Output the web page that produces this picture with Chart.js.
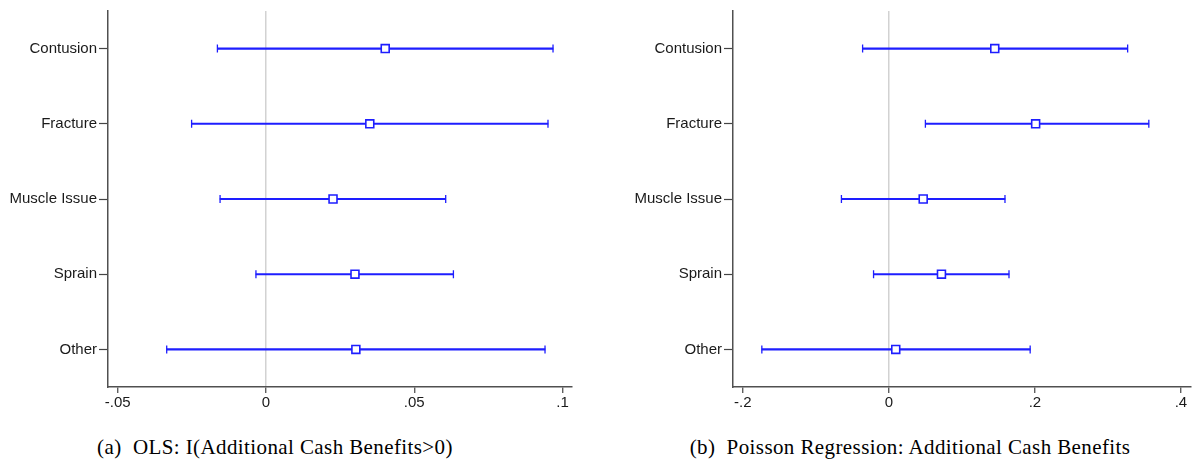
<!DOCTYPE html>
<html>
<head>
<meta charset="utf-8">
<script src="https://cdn.jsdelivr.net/npm/chart.js@4"></script>
<style>
  body { margin: 0; background: #fff; width: 1198px; height: 473px; position: relative; overflow: hidden; }
  .panel { position: absolute; top: 0; }
  .caption { position: absolute; top: 435px; font-family: 'Liberation Serif', serif; font-size: 21px; letter-spacing: 0.4px; color: #000; white-space: nowrap; transform: translateX(-50%); }
</style>
</head>
<body>
<div class="panel" style="left:0"><canvas id="olsChart" width="600" height="420"></canvas></div>
<div class="panel" style="left:600px"><canvas id="poisChart" width="598" height="420"></canvas></div>
<div class="caption" style="left:275px">(a)&nbsp; OLS: I(Additional Cash Benefits&gt;0)</div>
<div class="caption" style="left:910px">(b)&nbsp; Poisson Regression: Additional Cash Benefits</div>
<script>
const categories = ['Contusion', 'Fracture', 'Muscle Issue', 'Sprain', 'Other'];

// OLS estimates with 95% CI
const olsCoef  = [0.0402, 0.0350, 0.0226, 0.0300, 0.0303];
const olsLower = [-0.0164, -0.0251, -0.0155, -0.0034, -0.0335];
const olsUpper = [0.0968, 0.0951, 0.0606, 0.0632, 0.0941];
const olsTicks = [-0.05, 0, 0.05, 0.1];
const olsTickLabels = ['-.05', '0', '.05', '.1'];

// Poisson estimates with 95% CI
const poisCoef  = [0.145, 0.201, 0.047, 0.072, 0.0094];
const poisLower = [-0.036, 0.050, -0.065, -0.021, -0.174];
const poisUpper = [0.327, 0.356, 0.159, 0.1645, 0.1935];
const poisTicks = [-0.2, 0, 0.2, 0.4];
const poisTickLabels = ['-.2', '0', '.2', '.4'];

const blue = 'rgb(30,30,255)';
const labelFont = { family: "'Liberation Sans', Arial, sans-serif", size: 15 };

function pts(values) {
    return values.map((v, i) => ({ x: v, y: categories[i] }));
}

function makeChart(id, coef, lower, upper, ticks, tickLabels, xmin, xmax, yAxisWidth, padRight) {
    const ctx = document.getElementById(id).getContext('2d');
    return new Chart(ctx, {
        type: 'bar',
        data: {
            labels: categories,
            datasets: [
                {
                    type: 'line',
                    data: pts(coef),
                    showLine: false,
                    pointStyle: 'rect',
                    pointRadius: 5.6,
                    pointBorderWidth: 1.6,
                    pointBorderColor: blue,
                    pointBackgroundColor: '#fff',
                },
                {
                    type: 'line',
                    data: pts(lower),
                    showLine: false,
                    pointStyle: 'line',
                    pointRotation: 90,
                    pointRadius: 4,
                    pointBorderWidth: 1.3,
                    pointBorderColor: blue,
                },
                {
                    type: 'line',
                    data: pts(upper),
                    showLine: false,
                    pointStyle: 'line',
                    pointRotation: 90,
                    pointRadius: 4,
                    pointBorderWidth: 1.3,
                    pointBorderColor: blue,
                },
                {
                    data: lower.map((l, i) => [l, upper[i]]),
                    backgroundColor: blue,
                    borderWidth: 0,
                    barThickness: 1.4,
                }
            ]
        },
        options: {
            indexAxis: 'y',
            responsive: false,
            animation: false,
            layout: { padding: { top: 8, right: padRight, left: 0, bottom: 0 } },
            plugins: { legend: { display: false }, tooltip: { enabled: false } },
            scales: {
                x: {
                    type: 'linear',
                    min: xmin,
                    max: xmax,
                    afterBuildTicks: s => { s.ticks = ticks.map(v => ({ value: v })); },
                    afterFit: s => { s.height = 33; },
                    ticks: {
                        callback: (v, i) => tickLabels[i],
                        font: labelFont,
                        color: '#1a1a1a',
                        padding: 1,
                        maxRotation: 0,
                        autoSkip: false,
                    },
                    grid: {
                        color: c => (c.tick && c.tick.value === 0) ? '#d2d2d2' : 'rgba(0,0,0,0)',
                        lineWidth: 1.5,
                        tickColor: '#444',
                        tickLength: 6,
                        tickWidth: 1.2,
                    },
                    border: { color: '#505050', width: 1.5 },
                },
                y: {
                    type: 'category',
                    offset: true,
                    afterFit: s => { s.width = yAxisWidth; },
                    ticks: { font: labelFont, color: '#1a1a1a', padding: 2 },
                    grid: {
                        offset: false,
                        drawOnChartArea: false,
                        tickColor: '#444',
                        tickLength: 9,
                        tickWidth: 1.2,
                    },
                    border: { color: '#505050', width: 1.5 },
                }
            }
        }
    });
}

const olsChart = makeChart('olsChart', olsCoef, olsLower, olsUpper, olsTicks, olsTickLabels, -0.0533, 0.1032, 108, 28);
const poisChart = makeChart('poisChart', poisCoef, poisLower, poisUpper, poisTicks, poisTickLabels, -0.2135, 0.4135, 133, 1);
</script>
</body>
</html>
